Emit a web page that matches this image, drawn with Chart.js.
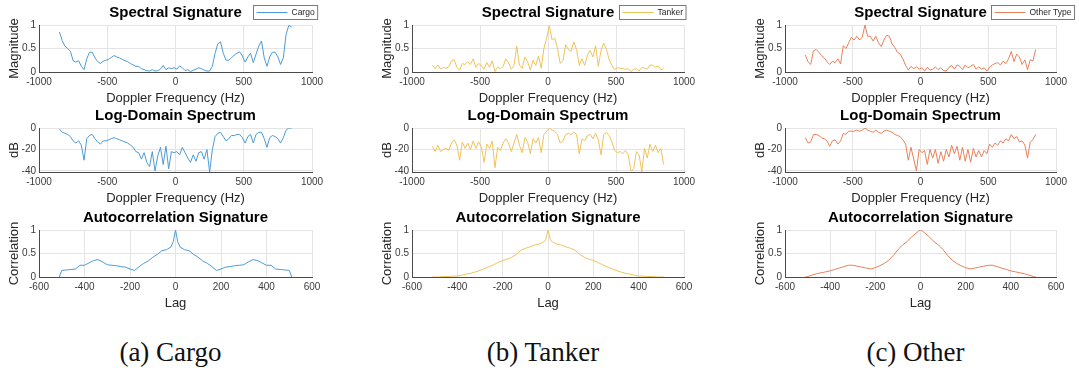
<!DOCTYPE html>
<html>
<head>
<meta charset="utf-8">
<script src="https://cdn.jsdelivr.net/npm/chart.js@4.4.1/dist/chart.umd.min.js"></script>
<style>
  body { margin: 0; background: #fff; }
  #fig { position: relative; width: 1079px; height: 376px; overflow: hidden; background: #fff; }
  #fig canvas { position: absolute; }
  .cap {
    position: absolute; top: 337px; width: 220px; text-align: center;
    font-family: "Liberation Serif", "DejaVu Serif", serif; font-size: 27px; line-height: 30px;
    color: #111;
  }
</style>
</head>
<body>
<div id="fig"></div>
<script>
// Doppler bins (Hz) and autocorrelation lags
const freqBins = [-850,-830,-810,-790,-770,-750,-730,-710,-690,-670,-650,-630,-610,-590,-570,-550,-530,-510,-490,-470,
  -450,-430,-410,-390,-370,-350,-330,-310,-290,-270,-250,-230,-210,-190,-170,-150,-130,-110,-90,-70,
  -50,-30,-10,10,30,50,70,90,110,130,150,170,190,210,230,250,270,290,310,330,
  350,370,390,410,430,450,470,490,510,530,550,570,590,610,630,650,670,690,710,730,
  750,770,790,810,830,850];
const lags = [-511,-500,-480,-460,-440,-420,-400,-380,-360,-340,-320,-300,-280,-260,-240,-220,-200,-180,-160,-140,
  -120,-100,-80,-60,-40,-20,-10,0,10,20,40,60,80,100,120,140,160,180,200,220,
  240,260,280,300,320,340,360,380,400,420,440,460,480,500,511];

// Cargo
const cargoMag = [0.85,0.67,0.55,0.50,0.44,0.24,0.21,0.24,0.12,0.05,
  0.28,0.42,0.42,0.30,0.22,0.18,0.23,0.25,0.27,0.31,
  0.35,0.32,0.30,0.27,0.24,0.22,0.18,0.15,0.12,0.12,
  0.07,0.05,0.03,0.02,0.05,0.02,0.03,0.06,0.14,0.05,
  0.09,0.07,0.09,0.06,0.13,0.09,0.03,0.05,0.01,0.04,
  0.06,0.09,0.07,0.04,0.02,0.02,0.12,0.40,0.60,0.64,
  0.40,0.25,0.25,0.30,0.36,0.40,0.43,0.34,0.21,0.32,
  0.40,0.20,0.38,0.55,0.66,0.30,0.12,0.32,0.42,0.42,
  0.32,0.16,0.30,0.80,0.99,0.96];
const cargoDb = [-1,-4,-5,-6,-8,-12,-14,-12,-16,-30,
  -10,-7,-6,-10,-13,-15,-12,-12,-11,-10,
  -9,-10,-11,-12,-13,-14,-16,-18,-22,-23,
  -29,-23,-32,-36,-22,-40,-26,-18,-34,-17,
  -38,-22,-23,-22,-25,-18,-23,-28,-32,-25,
  -31,-23,-22,-29,-20,-41,-20,-8,-5,-4,
  -8,-12,-10,-7,-7,-6,-6,-9,-14,-8,
  -6,-14,-6,-4,-4,-10,-18,-9,-7,-8,
  -10,-14,-9,-2,0,0];
const cargoAcf = [0.00,0.14,0.15,0.16,0.17,0.25,0.25,0.30,0.35,0.37,0.32,0.26,0.25,0.24,0.22,0.21,0.17,0.14,0.22,0.29,
  0.34,0.42,0.48,0.56,0.58,0.64,0.75,1.00,0.75,0.64,0.58,0.56,0.48,0.42,0.34,0.29,0.22,0.14,0.17,0.21,
  0.22,0.24,0.25,0.26,0.32,0.37,0.35,0.30,0.25,0.25,0.17,0.16,0.15,0.14,0.00];

// Tanker
const tankerMag = [0.14,0.07,0.15,0.06,0.10,0.08,0.11,0.24,0.26,0.10,
  0.04,0.18,0.16,0.22,0.16,0.28,0.10,0.18,0.14,0.06,
  0.20,0.10,0.24,0.01,0.11,0.07,0.12,0.28,0.20,0.06,
  0.14,0.55,0.14,0.08,0.32,0.22,0.04,0.25,0.14,0.34,
  0.08,0.50,0.72,0.98,0.68,0.72,0.50,0.18,0.24,0.58,
  0.48,0.44,0.64,0.48,0.14,0.28,0.14,0.36,0.46,0.32,
  0.56,0.12,0.46,0.61,0.48,0.26,0.14,0.05,0.09,0.08,
  0.07,0.06,0.07,0.01,0.06,0.07,0.02,0.10,0.08,0.06,
  0.15,0.14,0.10,0.13,0.05,0.07];
const tankerDb = [-17,-22,-16,-22,-20,-19,-21,-14,-11,-16,
  -30,-13,-19,-14,-20,-12,-19,-13,-18,-32,
  -15,-19,-12,-37,-18,-21,-14,-10,-14,-22,
  -14,-6,-16,-23,-9,-13,-24,-10,-14,-9,
  -23,-6,-3,0,-2,-3,-6,-14,-12,-6,
  -5,-6,-4,-6,-24,-10,-12,-7,-6,-10,
  -5,-11,-25,-6,-4,-7,-13,-21,-23,-22,
  -24,-21,-25,-40,-38,-22,-25,-41,-19,-28,
  -15,-22,-16,-23,-19,-34];
const tankerAcf = [0.00,0.00,0.00,0.01,0.01,0.02,0.02,0.04,0.06,0.08,0.11,0.14,0.18,0.22,0.26,0.31,0.35,0.38,0.42,0.48,
  0.57,0.61,0.64,0.68,0.70,0.74,0.80,1.00,0.80,0.74,0.70,0.68,0.64,0.61,0.57,0.48,0.42,0.38,0.35,0.31,
  0.26,0.22,0.18,0.14,0.11,0.08,0.06,0.04,0.02,0.02,0.01,0.01,0.00,0.00,0.00];

// Other type
const otherMag = [0.36,0.22,0.16,0.45,0.48,0.42,0.35,0.30,0.22,0.16,
  0.23,0.20,0.28,0.17,0.56,0.50,0.62,0.74,0.68,0.76,
  0.68,0.74,1.00,0.76,0.76,0.66,0.76,0.62,0.54,0.68,
  0.78,0.76,0.60,0.52,0.42,0.38,0.28,0.14,0.04,0.12,
  0.07,0.11,0.06,0.09,0.02,0.10,0.04,0.06,0.11,0.05,
  0.09,0.03,0.02,0.10,0.14,0.06,0.15,0.12,0.05,0.15,
  0.09,0.12,0.16,0.06,0.11,0.06,0.09,0.02,0.10,0.15,
  0.18,0.20,0.15,0.23,0.18,0.28,0.44,0.22,0.38,0.32,
  0.16,0.26,0.05,0.26,0.24,0.48];
const otherDb = [-9,-14,-13,-6,-6,-7,-9,-10,-12,-17,
  -12,-11,-15,-12,-5,-6,-3,-3,-3,-2,
  -3,-2,0,-2,-3,-4,-2,-4,-5,-3,
  -2,-3,-4,-6,-7,-8,-11,-15,-30,-18,
  -29,-40,-20,-23,-21,-34,-20,-28,-20,-33,
  -22,-31,-20,-27,-16,-24,-17,-30,-18,-31,
  -20,-32,-19,-27,-21,-27,-21,-24,-15,-18,
  -14,-16,-12,-14,-10,-12,-6,-10,-8,-13,
  -12,-16,-28,-13,-11,-6];
const otherAcf = [0.00,0.01,0.04,0.07,0.09,0.11,0.13,0.16,0.19,0.22,0.25,0.25,0.23,0.21,0.19,0.17,0.20,0.24,0.29,0.36,
  0.46,0.58,0.68,0.75,0.85,0.93,0.97,1.00,0.97,0.93,0.85,0.75,0.68,0.58,0.46,0.36,0.29,0.24,0.20,0.17,
  0.19,0.21,0.23,0.25,0.25,0.22,0.19,0.16,0.13,0.11,0.09,0.07,0.04,0.01,0.00];

// tick positions
const freqTicks = [-1000, -500, 0, 500, 1000];
const lagTicks = [-600, -400, -200, 0, 200, 400, 600];
const unitTicks = [0, 0.5, 1];
const dbTicks = [-40, -20, 0];

const SANS = '"Liberation Sans", Arial, Helvetica, sans-serif';

const columns = [
  { name: 'Cargo', caption: '(a) Cargo', color: '#4c9bd6', left: 39, right: 312, legendRight: 317,
    mag: cargoMag, db: cargoDb, acf: cargoAcf },
  { name: 'Tanker', caption: '(b) Tanker', color: '#f0c25a', left: 412, right: 684, legendRight: 686,
    mag: tankerMag, db: tankerDb, acf: tankerAcf },
  { name: 'Other Type', caption: '(c) Other', color: '#e8805a', left: 785, right: 1056, legendRight: 1074,
    mag: otherMag, db: otherDb, acf: otherAcf }
];

const rows = [
  { key: 'mag', title: 'Spectral Signature', ylabel: 'Magnitude', xlabel: 'Doppler Frequency (Hz)',
    xs: freqBins, xmin: -1000, xmax: 1000, xticks: freqTicks, ymin: 0, ymax: 1, yticks: unitTicks,
    top: 25, bottom: 72, legend: true },
  { key: 'db', title: 'Log-Domain Spectrum', ylabel: 'dB', xlabel: 'Doppler Frequency (Hz)',
    xs: freqBins, xmin: -1000, xmax: 1000, xticks: freqTicks, ymin: -41, ymax: 0, yticks: dbTicks,
    top: 128, bottom: 172, legend: false },
  { key: 'acf', title: 'Autocorrelation Signature', ylabel: 'Correlation', xlabel: 'Lag',
    xs: lags, xmin: -600, xmax: 600, xticks: lagTicks, ymin: 0, ymax: 1, yticks: unitTicks,
    top: 230, bottom: 277, legend: false }
];

const AXIS_W = 39, HEAD_H = 24, FOOT_H = 34, RIGHT_PAD = 22;

// title above the axes plus the boxed legend on the top row
const header = {
  id: 'header',
  afterDraw(chart, args, opts) {
    const { ctx, chartArea } = chart;
    ctx.save();
    ctx.fillStyle = '#000';
    ctx.font = 'bold 15px ' + SANS;
    ctx.textAlign = 'center';
    ctx.textBaseline = 'middle';
    ctx.fillText(opts.title, (chartArea.left + chartArea.right) / 2, chartArea.top - 12);
    if (opts.legendRight != null) {
      const ds = chart.data.datasets[0];
      ctx.font = '8.5px ' + SANS;
      const tw = ctx.measureText(ds.label).width;
      const w = 3 + 31 + 4 + tw + 3;
      const x0 = Math.round(opts.legendRight - w) + 0.5;
      const y0 = chartArea.top - 19.5;
      ctx.fillStyle = '#fff';
      ctx.fillRect(x0, y0, w, 14);
      ctx.strokeStyle = '#7a7a7a';
      ctx.lineWidth = 1;
      ctx.strokeRect(x0, y0, w, 14);
      ctx.strokeStyle = ds.borderColor;
      ctx.beginPath();
      ctx.moveTo(x0 + 3, y0 + 7);
      ctx.lineTo(x0 + 34, y0 + 7);
      ctx.stroke();
      ctx.fillStyle = '#262626';
      ctx.textAlign = 'left';
      ctx.fillText(ds.label, x0 + 38, y0 + 7.5);
    }
    ctx.restore();
  }
};

const fig = document.getElementById('fig');

function makePlot(col, row) {
  const canvas = document.createElement('canvas');
  const cx = col.left - AXIS_W, cy = row.top - HEAD_H;
  const w = col.right - col.left + AXIS_W + RIGHT_PAD;
  const h = row.bottom - row.top + HEAD_H + FOOT_H;
  canvas.width = w; canvas.height = h;
  canvas.style.left = cx + 'px'; canvas.style.top = cy + 'px';
  canvas.style.width = w + 'px'; canvas.style.height = h + 'px';
  fig.appendChild(canvas);

  const ys = col[row.key];
  const tickFont = { family: SANS, size: 10 };
  const labelFont = { family: SANS, size: 13 };

  new Chart(canvas, {
    type: 'line',
    data: {
      datasets: [{
        label: col.name,
        data: row.xs.map((x, i) => ({ x, y: ys[i] })),
        borderColor: col.color,
        borderWidth: 1,
        pointRadius: 0,
        tension: 0,
        fill: false
      }]
    },
    options: {
      responsive: false,
      animation: false,
      devicePixelRatio: 1,
      layout: { padding: { top: HEAD_H, right: RIGHT_PAD, left: 0, bottom: 0 } },
      plugins: {
        legend: { display: false },
        title: { display: false },
        tooltip: { enabled: false },
        header: { title: row.title, legendRight: row.legend ? col.legendRight - cx : null }
      },
      scales: {
        x: {
          type: 'linear', min: row.xmin, max: row.xmax,
          afterBuildTicks: s => { s.ticks = row.xticks.map(v => ({ value: v })); },
          afterFit: s => { s.height = FOOT_H; },
          grid: { color: '#e4e4e4', drawTicks: false },
          border: { color: '#4a4a4a', width: 1 },
          ticks: { padding: 4, font: tickFont, color: '#3a3a3a', maxRotation: 0, autoSkip: false,
                   callback: v => String(v) },
          title: { display: true, text: row.xlabel, font: labelFont, color: '#262626', padding: 0 }
        },
        y: {
          min: row.ymin, max: row.ymax,
          afterBuildTicks: s => { s.ticks = row.yticks.map(v => ({ value: v })); },
          afterFit: s => { s.width = AXIS_W; },
          grid: { color: '#e4e4e4', drawTicks: false },
          border: { color: '#4a4a4a', width: 1 },
          ticks: { padding: 3, font: tickFont, color: '#3a3a3a', callback: v => String(v) },
          title: { display: true, text: row.ylabel, font: labelFont, color: '#262626', padding: { top: 7, bottom: 0 } }
        }
      }
    },
    plugins: [header]
  });
}

columns.forEach(col => {
  rows.forEach(row => makePlot(col, row));
  const cap = document.createElement('div');
  cap.className = 'cap';
  cap.textContent = col.caption;
  cap.style.left = ((col.left + col.right) / 2 - 110 - 5) + 'px';
  fig.appendChild(cap);
});
</script>
</body>
</html>
